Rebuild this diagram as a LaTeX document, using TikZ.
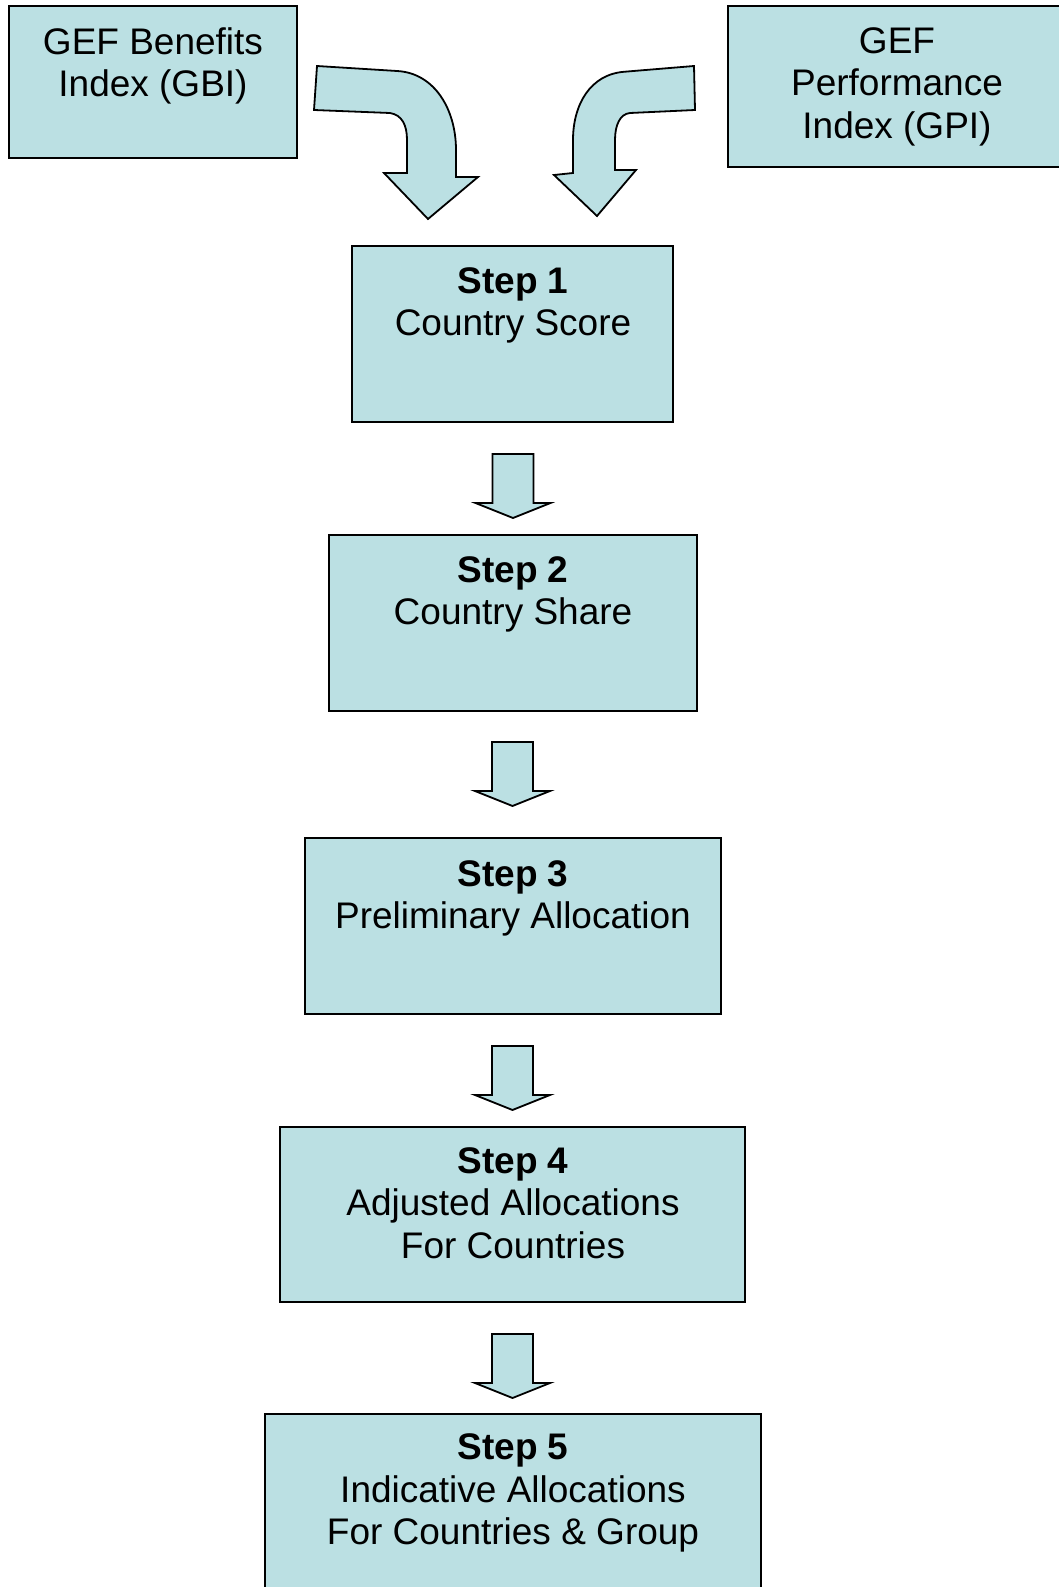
\documentclass[tikz,border=0pt]{standalone}
\usepackage{fontspec}
\setmainfont{Liberation Sans}
\usetikzlibrary{calc}
\definecolor{boxfill}{RGB}{187,224,227}
\tikzset{
  boxstyle/.style={draw=black, fill=boxfill, line width=1.8pt, rectangle, inner sep=0pt, outer sep=0pt, anchor=north west},
  arrowshape/.style={draw=black, fill=boxfill, line width=1.8pt, line join=miter},
  txt/.style={anchor=north, inner sep=0pt, align=center, font=\fontsize{37}{42.5}\selectfont}
}
\newcommand\blockdown[1]{%
  \path[arrowshape] ($(#1)+(-20.5,0)$) -- ($(#1)+(20.5,0)$) -- ($(#1)+(20.5,49)$) -- ($(#1)+(37.5,49)$)
    -- ($(#1)+(0,64)$) -- ($(#1)+(-37.5,49)$) -- ($(#1)+(-20.5,49)$) -- cycle;}
\begin{document}
\begin{tikzpicture}[x=1pt,y=-1pt]
\useasboundingbox (0,0) rectangle (1059,1587);
% top boxes
\node[boxstyle, minimum width=288pt, minimum height=152pt] (gbi) at (9,6) {};
\node[boxstyle, minimum width=345pt, minimum height=161pt] (gpi) at (728,6) {};
\node[txt] (gbitxt) at (153,27) {GEF Benefits\\Index (GBI)};
\node[txt] (gpitxt) at (897,27) {GEF\\Performance\\Index (GPI)};
% curved arrows
\path[arrowshape] (317,66) -- (397,71) .. controls (435,73) and (456,110) .. (456,150)
  -- (456,177) -- (478,177) -- (428,219) -- (384,173) -- (407,173) -- (407,140)
  .. controls (407,125) and (402,115) .. (390,113) -- (314,110) -- cycle;
\path[arrowshape] (694,66) -- (625,71.7) .. controls (590,74) and (573,105) .. (573,140)
  -- (573,173) -- (554,175) -- (597,216) -- (636,170) -- (615,170) -- (615,140)
  .. controls (615,125) and (620,114) .. (630,113) -- (695,110) -- cycle;
% step boxes
\node[boxstyle, minimum width=321pt, minimum height=176pt] (s1) at (352,246) {};
\node[boxstyle, minimum width=368pt, minimum height=176pt] (s2) at (329,535) {};
\node[boxstyle, minimum width=416pt, minimum height=176pt] (s3) at (305,838) {};
\node[boxstyle, minimum width=465pt, minimum height=175pt] (s4) at (280,1127) {};
\node[boxstyle, minimum width=496pt, minimum height=200pt] (s5) at (265,1414) {};
\node[txt] (t1) at (513,267) {\textbf{Step 1}\\Country Score};
\node[txt] (t2) at (513,556) {\textbf{Step 2}\\Country Share};
\node[txt] (t3) at (513,860) {\textbf{Step 3}\\Preliminary Allocation};
\node[txt] (t4) at (513,1147) {\textbf{Step 4}\\Adjusted Allocations\\For Countries};
\node[txt] (t5) at (513,1433.5) {\textbf{Step 5}\\Indicative Allocations\\For Countries \& Group};
% block arrows
\coordinate (a1) at ($(s1.south)+(0.5,32)$);
\coordinate (a2) at ($(s2.south)+(-0.5,31)$);
\coordinate (a3) at ($(s3.south)+(-0.5,32)$);
\coordinate (a4) at ($(s4.south)+(0,32)$);
\blockdown{a1}
\blockdown{a2}
\blockdown{a3}
\blockdown{a4}
\end{tikzpicture}
\end{document}
